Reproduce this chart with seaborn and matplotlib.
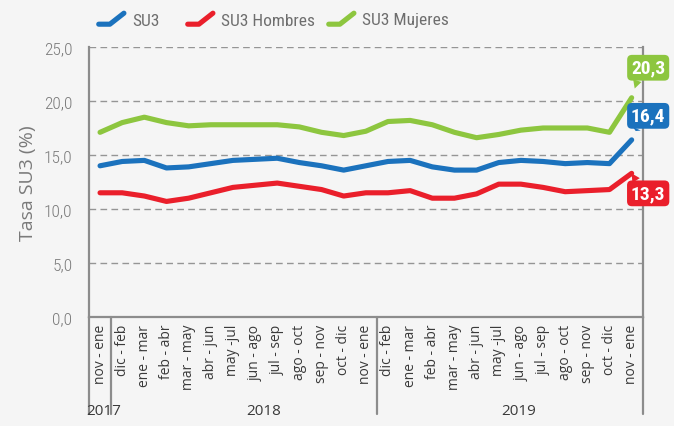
import numpy as np
import pandas as pd
import matplotlib
matplotlib.use("Agg")
import matplotlib.pyplot as plt
import matplotlib.transforms as mtransforms
from matplotlib.lines import Line2D
from matplotlib.legend_handler import HandlerBase
import seaborn as sns

# ---------------- data ----------------
periodos = ['nov - ene',
            'dic - feb', 'ene - mar', 'feb - abr', 'mar - may', 'abr - jun', 'may -jul',
            'jun - ago', 'jul - sep', 'ago - oct', 'sep - nov', 'oct - dic', 'nov - ene',
            'dic - feb', 'ene - mar', 'feb - abr', 'mar - may', 'abr - jun', 'may -jul',
            'jun - ago', 'jul - sep', 'ago - oct', 'sep - nov', 'oct - dic', 'nov - ene']
anios = ['2017', '2018', '2019']
su3 = [14.0, 14.4, 14.5, 13.8, 13.9, 14.2, 14.5, 14.6, 14.7, 14.3, 14.0, 13.6,
       14.0, 14.4, 14.5, 13.9, 13.6, 13.6, 14.3, 14.5, 14.4, 14.2, 14.3, 14.2, 16.4]
su3_hombres = [11.5, 11.5, 11.2, 10.7, 11.0, 11.5, 12.0, 12.2, 12.4, 12.1, 11.8, 11.2,
               11.5, 11.5, 11.7, 11.0, 11.0, 11.4, 12.3, 12.3, 12.0, 11.6, 11.7, 11.8, 13.3]
su3_mujeres = [17.1, 18.0, 18.5, 18.0, 17.7, 17.8, 17.8, 17.8, 17.8, 17.6, 17.1, 16.8,
               17.2, 18.1, 18.2, 17.8, 17.1, 16.6, 16.9, 17.3, 17.5, 17.5, 17.5, 17.1, 20.3]
series = ['SU3', 'SU3 Hombres', 'SU3 Mujeres']
yticks = [0, 5, 10, 15, 20, 25]

colores = {'SU3': '#1b72bd', 'SU3 Hombres': '#ea1f2b', 'SU3 Mujeres': '#8dc63f'}
BG = '#f5f5f5'
GRAY_SPINE = '#8c8c8c'
NARROW = ['Liberation Sans Narrow', 'Roboto Condensed', 'Open Sans Condensed', 'Roboto', 'DejaVu Sans']
OPEN = ['Open Sans', 'DejaVu Sans']

n = len(periodos)
df = pd.DataFrame({
    'idx': list(range(n)) * 3,
    'valor': su3 + su3_hombres + su3_mujeres,
    'serie': [s for s in series for _ in range(n)],
})

sns.set_style('white')
plt.rcParams['font.family'] = OPEN

fig = plt.figure(figsize=(6.74, 4.27), dpi=100, facecolor=BG)
ax = fig.add_axes([0.132, 0.2553, 0.8216, 0.6323], facecolor=BG)

sns.lineplot(data=df, x='idx', y='valor', hue='serie', palette=colores,
             hue_order=series, linewidth=3.7, ax=ax, legend=False, sort=False)
for ln in ax.get_lines():
    ln.set_solid_capstyle('round')
    ln.set_solid_joinstyle('round')

ax.set_xlim(-0.5, n - 0.5)
ax.set_ylim(0, 25)
ax.set_yticks(yticks)
ax.set_yticklabels([f'{v:.1f}'.replace('.', ',') for v in yticks],
                   fontsize=12.5, color='#7a7a7a', family=NARROW, fontweight='light')
ax.yaxis.grid(True, linestyle=(0, (4.8, 3.1)), color='#959595', linewidth=1.0)
ax.set_axisbelow(True)

ax.set_xticks(range(n))
ax.set_xticklabels(periodos, rotation=90, fontsize=10, color='#3a3a3a', family=OPEN)
ax.tick_params(axis='x', length=0, pad=5)
ax.tick_params(axis='y', length=0, pad=12)
ax.set_xlabel('')
ax.set_ylabel('Tasa SU3 (%)', fontsize=14, color='#7a7a7a', family=OPEN)
ax.yaxis.set_label_coords(-0.094, 0.5)

ax.spines['top'].set_visible(False)
for s in ['left', 'bottom', 'right']:
    ax.spines[s].set_color(GRAY_SPINE)
    ax.spines[s].set_linewidth(1.6)

# group separators below the axis
trans = mtransforms.blended_transform_factory(ax.transData, ax.transAxes)
for xs in [-0.5, 0.5, 12.5, n - 0.5]:
    ax.add_line(Line2D([xs, xs], [0, -0.36], transform=trans, color=GRAY_SPINE,
                       lw=1.6, clip_on=False))
for xpos, label in zip([0.15, 7.4, 18.9], anios):
    ax.text(xpos, -0.348, label, transform=trans, ha='center', va='center',
            fontsize=11, color='#3a3a3a', family=OPEN)

# end callouts
offsets = {'SU3': (11.9, 17.3), 'SU3 Hombres': (11.9, -14.4), 'SU3 Mujeres': (11.9, 21.6)}
relpos = {'SU3': (0.22, 0.0), 'SU3 Hombres': (0.22, 1.0), 'SU3 Mujeres': (0.22, 0.0)}
for s, vals in zip(series, [su3, su3_hombres, su3_mujeres]):
    v = vals[-1]
    c = colores[s]
    ax.annotate(f'{v:.1f}'.replace('.', ','), xy=(n - 1, v), xytext=offsets[s],
                textcoords='offset points', ha='center', va='center',
                color='white', fontweight='bold', fontsize=14, family=NARROW,
                bbox=dict(boxstyle='round,pad=0.2,rounding_size=0.25', fc=c, ec='none'),
                arrowprops=dict(arrowstyle='wedge,tail_width=0.45', fc=c, ec='none',
                                shrinkA=0, shrinkB=7, relpos=relpos[s]),
                annotation_clip=False, zorder=5)


class SlantHandler(HandlerBase):
    def create_artists(self, legend, orig_handle, xdescent, ydescent, width, height,
                       fontsize, trans):
        xs = np.array([0.06, 0.45, 0.94]) * width - xdescent
        ys = np.array([0.0, 0.0, 0.95]) * height - ydescent
        ln = Line2D(xs, ys, color=orig_handle.get_color(), lw=3.7,
                    solid_capstyle='round', solid_joinstyle='round')
        ln.set_transform(trans)
        return [ln]


for s, xpx in zip(series, [97, 186, 327]):
    h = Line2D([], [], color=colores[s], lw=3.7)
    fig.legend([h], [s], loc='center left', bbox_to_anchor=(xpx / 674, 1 - 21 / 427),
               frameon=False, handler_map={Line2D: SlantHandler()}, handlelength=1.65,
               handleheight=0.65, handletextpad=0.38, borderpad=0, borderaxespad=0,
               labelcolor='#6e6e6e', prop={'family': NARROW, 'size': 12.5})

fig.savefig('out.png', dpi=100, facecolor=BG)
